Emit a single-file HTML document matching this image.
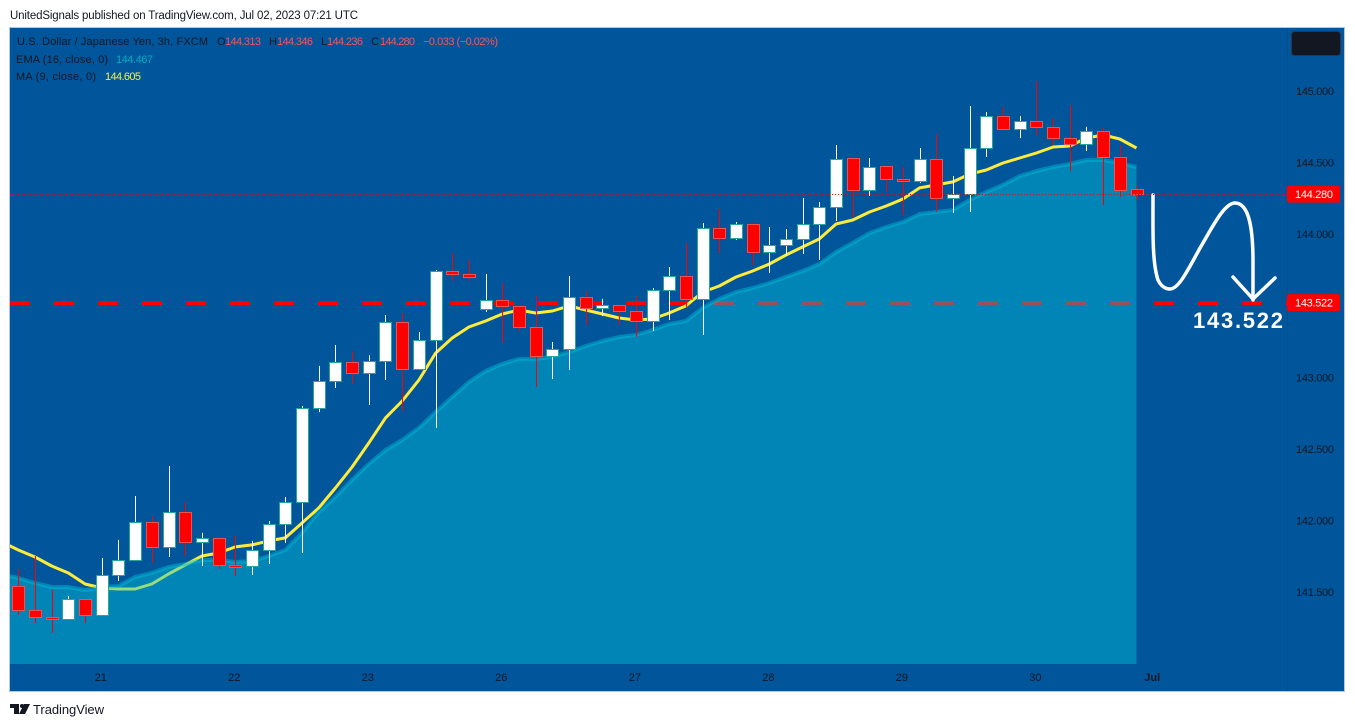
<!DOCTYPE html>
<html lang="en">
<head>
<meta charset="utf-8">
<title>USDJPY 3h chart</title>
<style>
html,body{margin:0;padding:0;background:#fff;width:1355px;height:727px;overflow:hidden}
svg{display:block;font-family:"Liberation Sans",sans-serif}
</style>
</head>
<body>
<svg id="chart" xmlns="http://www.w3.org/2000/svg" width="1355" height="727" viewBox="0 0 1355 727">
  <defs><clipPath id="plotClip"><rect x="10" y="28" width="1277" height="636"/></clipPath></defs>
  <text x="10" y="19" font-size="11.5" fill="#131722" textLength="348" lengthAdjust="spacing">UnitedSignals published on TradingView.com, Jul 02, 2023 07:21 UTC</text>
  <rect x="9.5" y="27.5" width="1335" height="664" fill="#00559b" stroke="#b4c8da" stroke-width="1"/>
  <g id="plot" clip-path="url(#plotClip)"></g>
  <line x1="1287.5" y1="28" x2="1287.5" y2="691" stroke="#000" stroke-opacity="0.08"/>
  <g id="axes"></g>
  <path d="M1153 195 C1153 230 1152 262 1158 280 C1161 286 1165 289 1170 289 C1178 289 1186 274 1200 248 C1212 228 1224 203 1235 203 C1250 203 1253 232 1253 262 L1253 300" fill="none" stroke="#fff" stroke-width="3.5" stroke-linecap="round"/>
  <path d="M1233 277 L1253 299 L1275 278" fill="none" stroke="#fff" stroke-width="3.5" stroke-linecap="round" stroke-linejoin="round"/>
  <g id="legend" font-size="11">
    <text x="17" y="45" fill="#131722" textLength="191" lengthAdjust="spacing">U.S. Dollar / Japanese Yen, 3h, FXCM</text>
    <text x="217" y="45" fill="#131722">O</text>
    <text x="225" y="45" fill="#ff5252" textLength="36">144.313</text>
    <text x="269" y="45" fill="#131722">H</text>
    <text x="277" y="45" fill="#ff5252" textLength="36">144.346</text>
    <text x="321" y="45" fill="#131722">L</text>
    <text x="327" y="45" fill="#ff5252" textLength="36">144.236</text>
    <text x="371" y="45" fill="#131722">C</text>
    <text x="380" y="45" fill="#ff5252" textLength="35">144.280</text>
    <text x="423" y="45" fill="#ff5252" textLength="75">−0.033 (−0.02%)</text>
    <text x="16" y="63" fill="#131722" textLength="92">EMA (16, close, 0)</text>
    <text x="116" y="63" fill="#00acc1" textLength="37">144.467</text>
    <text x="16" y="80" fill="#131722" textLength="80">MA (9, close, 0)</text>
    <text x="105" y="80" fill="#ffeb3b" textLength="36">144.605</text>
  </g>
  <rect x="1291.5" y="31.5" width="49" height="24" rx="3" fill="#131722" stroke="#2a3550"/>
  <g fill="#131722">
    <path d="M10 704 H19 V714 H14 V708 H10 Z"/>
    <circle cx="22" cy="706" r="2"/>
    <path d="M24 704 H30 L25 714 H19 Z"/>
  </g>
  <text x="33" y="714" font-size="13" fill="#131722" textLength="71" lengthAdjust="spacing">TradingView</text>
</svg>
<script>
const opens = [141.543,141.376,141.327,141.313,141.453,141.341,141.620,141.725,141.990,141.816,142.060,141.851,141.879,141.690,141.683,141.795,141.976,142.130,142.786,142.975,143.108,143.031,143.115,143.387,143.059,143.261,143.743,143.722,143.478,143.541,143.499,143.352,143.149,143.198,143.561,143.485,143.506,143.464,143.394,143.610,143.708,143.547,144.043,143.974,144.071,143.876,143.925,143.967,144.071,144.190,144.532,144.309,144.476,144.385,144.372,144.525,144.253,144.281,144.602,144.825,144.735,144.791,144.749,144.672,144.630,144.721,144.539,144.313];
const highs = [141.662,141.753,141.515,141.474,141.453,141.739,141.865,142.172,142.032,142.381,142.130,141.914,141.879,141.893,141.858,141.997,142.165,142.800,143.080,143.226,143.184,143.156,143.436,143.450,143.317,143.750,143.869,143.820,143.722,143.659,143.499,143.568,143.247,143.708,143.603,143.548,143.506,143.568,143.624,143.771,143.939,144.078,144.176,144.085,144.078,144.050,144.036,144.253,144.225,144.623,144.532,144.532,144.476,144.469,144.602,144.700,144.406,144.895,144.853,144.888,144.825,145.070,144.811,144.902,144.749,144.742,144.623,144.346];
const lows = [141.341,141.285,141.215,141.313,141.285,141.341,141.578,141.725,141.704,141.746,141.753,141.683,141.662,141.613,141.620,141.697,141.844,141.774,142.758,142.926,142.954,142.807,142.982,142.765,143.059,142.647,143.673,143.673,143.457,143.240,143.324,142.933,142.989,143.052,143.366,143.429,143.366,143.282,143.324,143.401,143.492,143.296,143.869,143.960,143.785,143.729,143.848,143.862,143.820,144.092,144.120,144.267,144.295,144.134,144.358,144.155,144.148,144.155,144.539,144.735,144.672,144.693,144.623,144.441,144.581,144.204,144.260,144.236];
const closes = [141.376,141.327,141.313,141.453,141.341,141.620,141.725,141.990,141.816,142.060,141.851,141.879,141.690,141.676,141.795,141.976,142.130,142.786,142.975,143.108,143.031,143.115,143.387,143.059,143.261,143.743,143.722,143.701,143.541,143.499,143.352,143.149,143.198,143.561,143.485,143.506,143.464,143.394,143.610,143.708,143.547,144.043,143.974,144.071,143.876,143.925,143.967,144.071,144.190,144.525,144.309,144.469,144.385,144.372,144.525,144.253,144.281,144.602,144.825,144.735,144.791,144.749,144.672,144.630,144.721,144.539,144.309,144.280];
// Indicator series start one bar before the first visible candle.
const maValues = [141.851,141.795,141.746,141.683,141.634,141.557,141.529,141.522,141.522,141.557,141.627,141.690,141.753,141.774,141.816,141.830,141.858,141.879,141.983,142.088,142.228,142.374,142.542,142.717,142.835,142.982,143.170,143.275,143.352,143.394,143.443,143.471,143.450,143.464,143.499,143.471,143.443,143.415,143.401,143.408,143.450,143.499,143.596,143.638,143.701,143.743,143.792,143.855,143.911,143.967,144.071,144.099,144.155,144.197,144.246,144.323,144.344,144.365,144.420,144.448,144.497,144.532,144.567,144.609,144.616,144.672,144.693,144.665,144.602];
const emaValues = [141.627,141.599,141.564,141.536,141.536,141.515,141.536,141.543,141.606,141.634,141.676,141.697,141.725,141.725,141.711,141.718,141.753,141.795,141.914,142.060,142.165,142.284,142.395,142.493,142.563,142.647,142.758,142.863,142.968,143.045,143.094,143.129,143.129,143.143,143.177,143.219,143.254,143.282,143.296,143.331,143.373,143.394,143.485,143.548,143.596,143.624,143.659,143.701,143.743,143.792,143.876,143.939,144.008,144.050,144.085,144.141,144.155,144.169,144.239,144.295,144.344,144.406,144.441,144.469,144.490,144.518,144.518,144.497,144.469];
const priceTicks = [145,144.5,144,143,142.5,142,141.5];
const timeLabels = ['21','22','23','26','27','28','29','30','Jul'];
const timeTickBars = [5,13,21,29,37,45,53,61,68];
const supportPrice = 143.522;
const lastPrice = 144.280;

const NS = 'http://www.w3.org/2000/svg';
const xOf = i => 18.3 + 16.69 * i;
const yOf = p => 91 + (145 - p) * 143.2;
const plot = document.getElementById('plot');
const axes = document.getElementById('axes');
const root = document.getElementById('chart');
const AREA_BOTTOM = 664, PLOT_RIGHT = 1287;

function mk(tag, parent, attrs) {
  const el = document.createElementNS(NS, tag);
  for (const k in attrs) el.setAttribute(k, attrs[k]);
  parent.appendChild(el);
  return el;
}
function linePath(values) {
  return values.map((v, j) => (j ? 'L' : 'M') + xOf(j - 1).toFixed(1) + ' ' + yOf(v).toFixed(1)).join(' ');
}

const support = mk('line', plot, {x1:10, x2:PLOT_RIGHT, y1:Math.round(yOf(supportPrice)), y2:Math.round(yOf(supportPrice)), stroke:'#ff0000', 'stroke-width':4, 'stroke-dasharray':'20 24'});



const maLine = mk('path', plot, {d:linePath(maValues), fill:'none', stroke:'#ffeb3b', 'stroke-width':3, 'stroke-linejoin':'round'});



const lastX = xOf(emaValues.length - 2).toFixed(1);
const emaArea = mk('path', plot, {d:linePath(emaValues) + ' L' + lastX + ' ' + AREA_BOTTOM + ' L' + xOf(-1) + ' ' + AREA_BOTTOM + ' Z', fill:'rgb(0,202,221)', 'fill-opacity':0.41});



const emaLine = mk('path', plot, {d:linePath(emaValues), fill:'none', stroke:'rgb(0,188,212)', 'stroke-opacity':0.45, 'stroke-width':4, 'stroke-linejoin':'round'});



opens.forEach((o, i) => {
  const c = closes[i];
  const up = c >= o;
  const cx = Math.round(xOf(i)) + 0.5;
  const g = mk('g', plot, {});
  
  
  const wick = mk('line', g, {x1:cx, x2:cx, y1:yOf(highs[i]).toFixed(1), y2:yOf(lows[i]).toFixed(1), stroke: up ? '#ffffff' : '#ff0000', 'stroke-width':1});
  
  
  const top = Math.round(yOf(Math.max(o, c))) + 0.5;
  const bot = Math.round(yOf(Math.min(o, c))) + 0.5;
  const body = mk('rect', g, {x:cx - 6, y:top, width:12, height:Math.max(bot - top, 1), fill: up ? '#ffffff' : '#ff0000', stroke: up ? '#26a69a' : '#ef5350', 'stroke-width':1});
  
  
});

const lastLine = mk('line', root, {x1:10, x2:PLOT_RIGHT, y1:Math.round(yOf(lastPrice)) + 0.5, y2:Math.round(yOf(lastPrice)) + 0.5, stroke:'#ff0000', 'stroke-width':1, 'stroke-dasharray':'1 2'});



priceTicks.forEach(p => {
  const t = mk('text', axes, {x:1296, y:(yOf(p) + 4).toFixed(1), 'font-size':11, fill:'#131722', textLength:38, lengthAdjust:'spacing'});
  
  
  t.textContent = p.toFixed(3);
});
timeLabels.forEach((lab, k) => {
  const t = mk('text', axes, {x:xOf(timeTickBars[k]) - 1, y:681, 'text-anchor':'middle', 'font-size':11, fill:'#131722', 'font-weight':lab === 'Jul' ? 700 : 400});
  
  
  t.textContent = lab;
});

[lastPrice, supportPrice].forEach(p => {
  const cy = yOf(p);
  const r = mk('rect', axes, {x:1287, y:(cy - 8.5).toFixed(1), width:53, height:17, rx:2, fill:'#ff0000'});
  
  
  const t = mk('text', axes, {x:1295, y:(cy + 4).toFixed(1), 'font-size':11, fill:'#ffffff', textLength:38, lengthAdjust:'spacing'});
  
  
  t.textContent = p.toFixed(3);
});

const note = mk('text', root, {x:1193, y:328, 'font-size':22, 'font-weight':700, fill:'#ffffff', textLength:90, lengthAdjust:'spacing'});


note.textContent = supportPrice.toFixed(3);
</script>
</body>
</html>
